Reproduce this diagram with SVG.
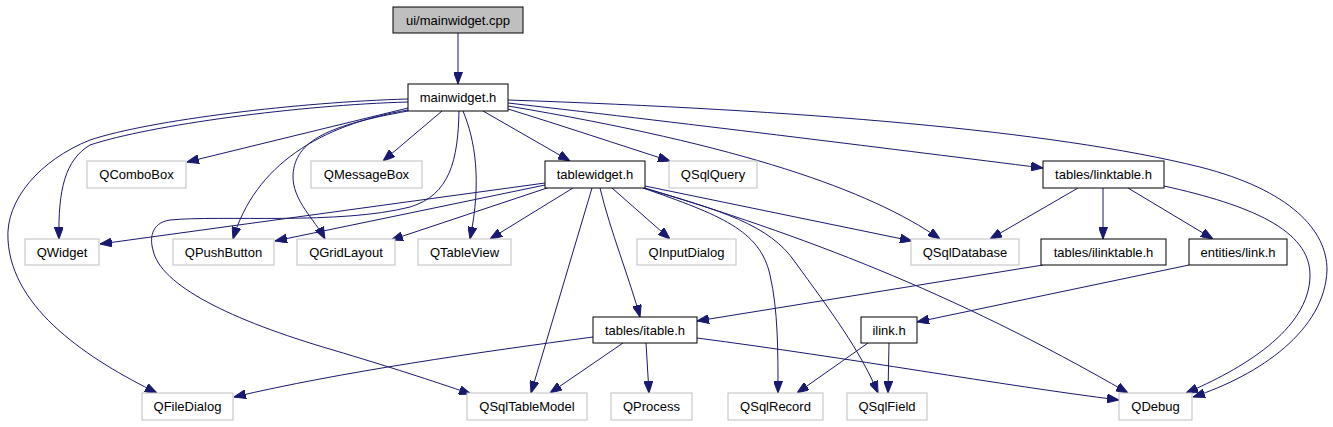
<svg xmlns="http://www.w3.org/2000/svg" width="1333" height="427" viewBox="0 0 1333 427">
<style>
.n rect{fill:#fff;stroke:#000;stroke-width:1}
.x rect{fill:#fff;stroke:#bfbfbf;stroke-width:1}
.s rect{fill:#bfbfbf;stroke:#000;stroke-width:1}
text{font-family:"Liberation Sans",Arial,sans-serif;font-size:13px;fill:#000;text-anchor:middle}
#edges path{fill:none;stroke:#191970;stroke-width:1;marker-end:url(#a)}
</style>
<defs>
<marker id="a" markerWidth="12" markerHeight="9" refX="12" refY="4.5" orient="auto" markerUnits="userSpaceOnUse"><path d="M0,0L12,4.5L0,9z" fill="#191970" stroke="#191970" stroke-width="1"/></marker>
</defs>
<rect width="1333" height="427" fill="#fff"/>
<g id="edges">
<path d="M458,33L458,84"/>
<path d="M408,108L187,162"/>
<path d="M442,111L383,161"/>
<path d="M408,110C320,125 255,165 233,239"/>
<path d="M408,111C330,125 295,140 293,175C292,200 315,220 325,239"/>
<path d="M463,111C475,140 482,180 470,239"/>
<path d="M459,111C458,160 450,195 410,207C340,225 220,215 170,220C150,223 150,240 153,250C160,285 230,320 333,350C390,367 430,380 471,394"/>
<path d="M408,102C300,105 150,125 90,145C65,160 58,190 59,239"/>
<path d="M408,99C300,102 150,120 90,140C40,160 5,200 8,240C12,310 90,360 157,393"/>
<path d="M483,111L570,161"/>
<path d="M508,109C560,125 620,145 670,161"/>
<path d="M508,106C740,145 870,190 940,239"/>
<path d="M508,103C700,125 900,150 1043,168"/>
<path d="M508,100C800,110 1050,130 1200,167C1290,190 1327,230 1327,270C1325,330 1260,375 1193,397"/>
<path d="M545,183L100,244"/>
<path d="M545,185L275,241"/>
<path d="M550,187L391,240"/>
<path d="M573,188L490,239"/>
<path d="M612,188L670,239"/>
<path d="M600,188C610,230 630,280 640,317"/>
<path d="M592,188L531,393"/>
<path d="M645,186L912,241"/>
<path d="M643,188C720,215 760,230 770,275C778,310 778,350 778,393"/>
<path d="M643,188C720,210 770,225 795,262C830,310 860,350 878,393"/>
<path d="M645,188C800,235 950,290 1128,393"/>
<path d="M1078,188L990,239"/>
<path d="M1103,188L1103,239"/>
<path d="M1128,188L1213,239"/>
<path d="M1164,186C1250,205 1310,230 1310,275C1310,330 1240,370 1186,393"/>
<path d="M1043,265L697,321"/>
<path d="M1189,265L917,322"/>
<path d="M593,337C480,352 340,372 234,397"/>
<path d="M623,343L550,393"/>
<path d="M646,343L649,393"/>
<path d="M697,338C850,358 1000,385 1119,400"/>
<path d="M868,343L797,393"/>
<path d="M889,343L888,393"/>
</g>
<g id="n_cpp" class="s"><rect x="393" y="7" width="130" height="26"/><text x="458" y="24.5">ui/mainwidget.cpp</text></g>
<g id="n_mainwidget" class="n"><rect x="408" y="84" width="100" height="27"/><text x="458" y="102">mainwidget.h</text></g>
<g id="n_QComboBox" class="x"><rect x="87" y="161" width="99" height="27"/><text x="136.5" y="179">QComboBox</text></g>
<g id="n_QMessageBox" class="x"><rect x="311" y="161" width="111" height="27"/><text x="366.5" y="179">QMessageBox</text></g>
<g id="n_tablewidget" class="n"><rect x="545" y="161" width="100" height="27"/><text x="595" y="179">tablewidget.h</text></g>
<g id="n_QSqlQuery" class="x"><rect x="669" y="161" width="88" height="27"/><text x="713" y="179">QSqlQuery</text></g>
<g id="n_linktable" class="n"><rect x="1043" y="161" width="121" height="27"/><text x="1103.5" y="179">tables/linktable.h</text></g>
<g id="n_QWidget" class="x"><rect x="25" y="239" width="74" height="26"/><text x="62" y="256.5">QWidget</text></g>
<g id="n_QPushButton" class="x"><rect x="173" y="239" width="101" height="26"/><text x="223.5" y="256.5">QPushButton</text></g>
<g id="n_QGridLayout" class="x"><rect x="297" y="239" width="98" height="26"/><text x="346" y="256.5">QGridLayout</text></g>
<g id="n_QTableView" class="x"><rect x="418" y="239" width="93" height="26"/><text x="464.5" y="256.5">QTableView</text></g>
<g id="n_QInputDialog" class="x"><rect x="637" y="239" width="99" height="26"/><text x="686.5" y="256.5">QInputDialog</text></g>
<g id="n_QSqlDatabase" class="x"><rect x="911" y="239" width="108" height="26"/><text x="965" y="256.5">QSqlDatabase</text></g>
<g id="n_ilinktable" class="n"><rect x="1041" y="239" width="125" height="26"/><text x="1103.5" y="256.5">tables/ilinktable.h</text></g>
<g id="n_link" class="n"><rect x="1189" y="239" width="98" height="26"/><text x="1238" y="256.5">entities/link.h</text></g>
<g id="n_itable" class="n"><rect x="593" y="317" width="104" height="26"/><text x="645" y="334.5">tables/itable.h</text></g>
<g id="n_ilink" class="n"><rect x="861" y="317" width="56" height="26"/><text x="889" y="334.5">ilink.h</text></g>
<g id="n_QFileDialog" class="x"><rect x="142" y="393" width="91" height="27"/><text x="187.5" y="411">QFileDialog</text></g>
<g id="n_QSqlTableModel" class="x"><rect x="467" y="393" width="120" height="27"/><text x="527" y="411">QSqlTableModel</text></g>
<g id="n_QProcess" class="x"><rect x="611" y="393" width="81" height="27"/><text x="651.5" y="411">QProcess</text></g>
<g id="n_QSqlRecord" class="x"><rect x="728" y="393" width="95" height="27"/><text x="775.5" y="411">QSqlRecord</text></g>
<g id="n_QSqlField" class="x"><rect x="847" y="393" width="80" height="27"/><text x="887" y="411">QSqlField</text></g>
<g id="n_QDebug" class="x"><rect x="1119" y="393" width="73" height="27"/><text x="1155.5" y="411">QDebug</text></g>
</svg>
